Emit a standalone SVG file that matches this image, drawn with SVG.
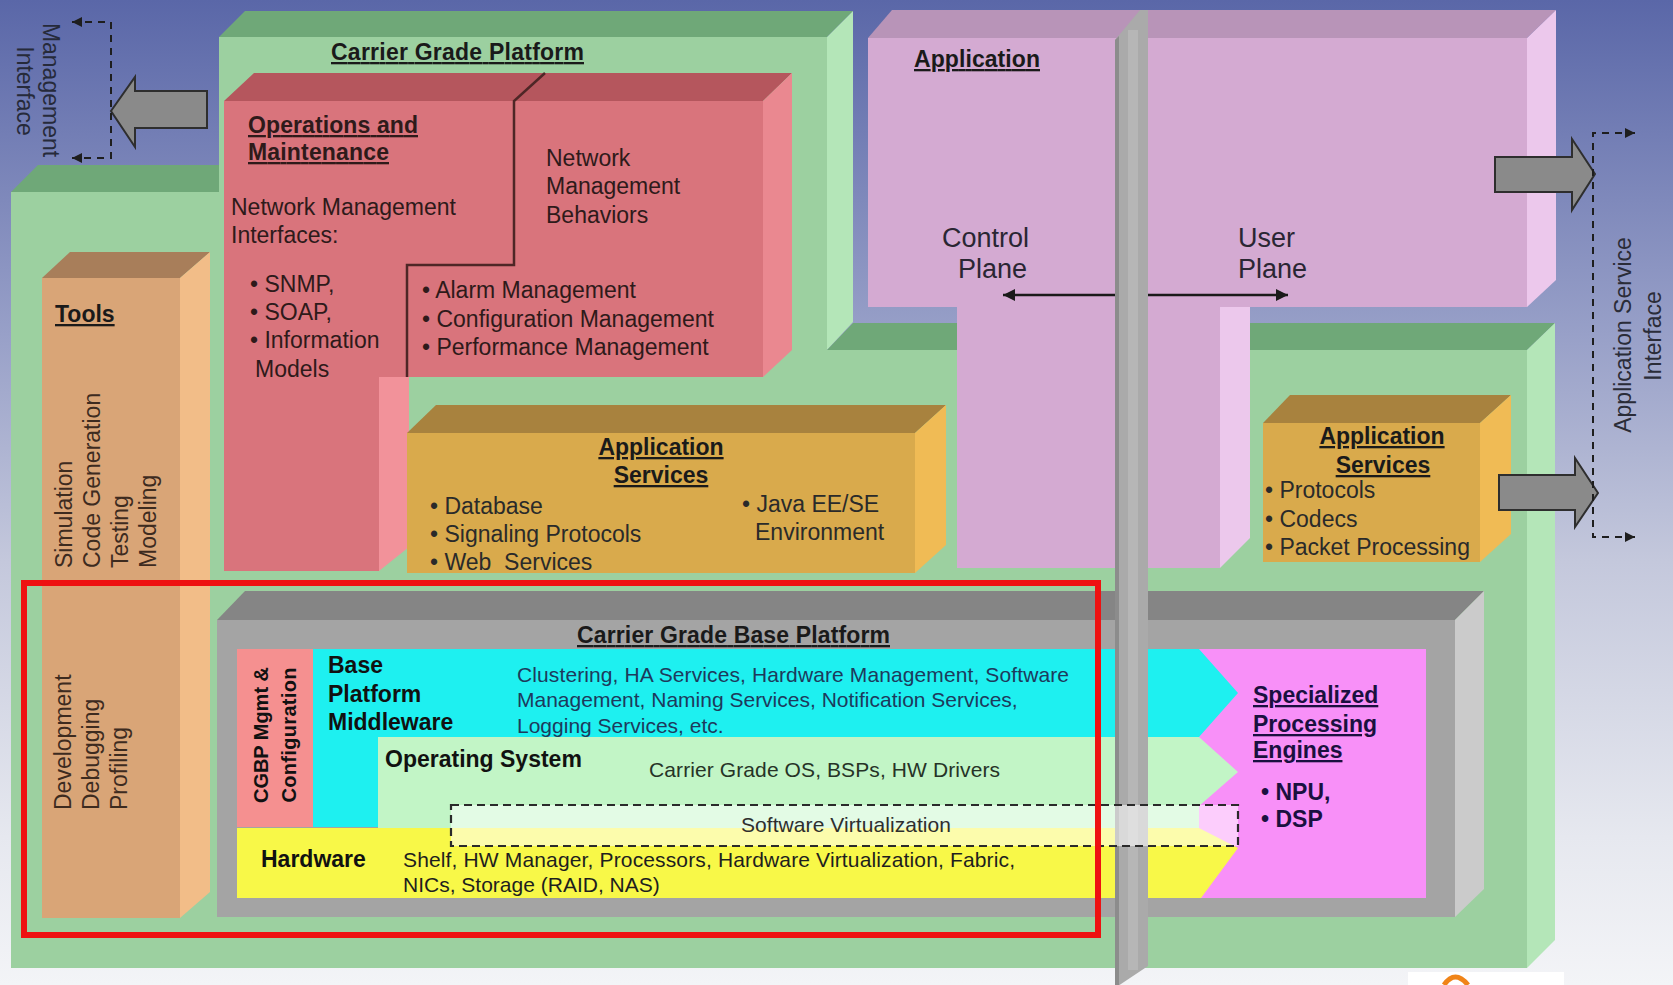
<svg xmlns="http://www.w3.org/2000/svg" width="1673" height="985" viewBox="0 0 1673 985">
<defs>
<linearGradient id="bg" x1="0" y1="0" x2="0" y2="1">
<stop offset="0" stop-color="#5a67a8"/>
<stop offset="0.34" stop-color="#98a0c8"/>
<stop offset="0.57" stop-color="#c4c8dc"/>
<stop offset="0.85" stop-color="#e6e8ef"/>
<stop offset="1" stop-color="#f3f4f7"/>
</linearGradient>
<marker id="dashTip" viewBox="0 0 10 10" refX="10" refY="5" markerWidth="11" markerHeight="10" markerUnits="userSpaceOnUse" orient="auto-start-reverse">
<path d="M0,0 L10,5 L0,10 z" fill="#1e1e1e"/>
</marker>
<marker id="planeTip" viewBox="0 0 10 10" refX="10" refY="5" markerWidth="14" markerHeight="12" markerUnits="userSpaceOnUse" orient="auto-start-reverse">
<path d="M0,0 L10,5 L0,10 z" fill="#1a1a1a"/>
</marker>
<style>
text{font-family:"Liberation Sans",Arial,sans-serif}
.h{font-size:23px;font-weight:bold;text-decoration:underline;fill:#1a1a1a}
.t{font-size:23px;fill:#2a2a2a}
.b{font-size:23px;font-weight:bold;fill:#111}
.s{font-size:21px;fill:#1e1e1e}
.om{fill:#2e1a1a}
.tool{font-size:23px;fill:#3d2b1f}
.gF{fill:#9cd0a0}.gT{fill:#6fa878}.gR{fill:#b4e6b8}
.pF{fill:#d4aad2}.pT{fill:#b894b8}.pR{fill:#ecc8ec}
.tF{fill:#d9a577}.tT{fill:#a87e5a}.tR{fill:#f2bd88}
.rF{fill:#d9747c}.rT{fill:#b5565d}.rR{fill:#ea8890}
.oF{fill:#d9aa4c}.oT{fill:#a8823e}.oR{fill:#f0bb55}
.bigArrow{fill:#8a8a8a;stroke:#2e2e2e;stroke-width:2}
.dash{fill:none;stroke:#1e1e1e;stroke-width:2;stroke-dasharray:7 6}
</style>
</defs>

<rect x="0" y="0" width="1673" height="985" fill="url(#bg)"/>

<g id="carrier-grade-platform">
<polygon class="gF" points="11,192 219,192 219,37 827,37 827,350 1527,350 1527,968 11,968"/>
<polygon class="gT" points="219,37 245,11 853,11 827,37"/>
<polygon class="gR" points="827,37 853,11 853,322 827,350"/>
<polygon class="gT" points="11,192 38,165 219,165 219,192"/>
<polygon class="gT" points="827,350 853,323 1555,323 1527,350"/>
<polygon class="gR" points="1527,350 1555,323 1555,940 1527,968"/>
<text class="h" x="331" y="60" textLength="253">Carrier Grade Platform</text>
</g>

<g id="application">
<polygon class="pT" points="868,38 892,10 1556,10 1527,38"/>
<rect class="pF" x="868" y="38" width="659" height="269"/>
<polygon class="pR" points="1527,38 1556,10 1556,280 1527,307"/>
<rect class="pF" x="957" y="307" width="263" height="261"/>
<polygon class="pR" points="1220,307 1250,307 1250,538 1220,568"/>
<text class="h" x="914" y="67" textLength="126">Application</text>
<text x="942" y="247" style="font-size:27px;fill:#2a2633">Control</text>
<text x="958" y="278" style="font-size:27px;fill:#2a2633">Plane</text>
<text x="1238" y="247" style="font-size:27px;fill:#2a2633">User</text>
<text x="1238" y="278" style="font-size:27px;fill:#2a2633">Plane</text>
</g>

<g id="tools">
<rect class="tF" x="42" y="278" width="138" height="640"/>
<polygon class="tT" points="42,278 70,252 210,252 180,278"/>
<polygon class="tR" points="180,278 210,252 210,892 180,918"/>
<text class="h" x="55" y="322">Tools</text>
<text class="tool" transform="translate(72,568) rotate(-90)">Simulation</text>
<text class="tool" transform="translate(100,568) rotate(-90)">Code Generation</text>
<text class="tool" transform="translate(128,568) rotate(-90)">Testing</text>
<text class="tool" transform="translate(156,568) rotate(-90)">Modeling</text>
<text class="tool" transform="translate(71,810) rotate(-90)">Development</text>
<text class="tool" transform="translate(99,810) rotate(-90)">Debugging</text>
<text class="tool" transform="translate(127,810) rotate(-90)">Profiling</text>
</g>

<g id="operations-maintenance">
<polygon class="rF" points="224,101 763,101 763,377 379,377 379,571 224,571"/>
<polygon class="rT" points="224,101 254,73 792,73 763,101"/>
<polygon class="rR" points="763,101 792,73 792,350 763,377"/>
<polygon fill="#f2929a" points="379,377 409,377 409,547 379,571"/>
<path d="M545,73 L514,101 V265 H407 V377" fill="none" stroke="#4e2626" stroke-width="2.5"/>
<text class="h om" x="248" y="133" textLength="170">Operations and</text>
<text class="h om" x="248" y="160" textLength="141">Maintenance</text>
<text class="t om" x="231" y="215">Network Management</text>
<text class="t om" x="231" y="243">Interfaces:</text>
<text class="t om" x="250" y="292">• SNMP,</text>
<text class="t om" x="250" y="320">• SOAP,</text>
<text class="t om" x="250" y="348">• Information</text>
<text class="t om" x="255" y="377">Models</text>
<text class="t om" x="546" y="166">Network</text>
<text class="t om" x="546" y="194">Management</text>
<text class="t om" x="546" y="223">Behaviors</text>
<text class="t om" x="422" y="298">• Alarm Management</text>
<text class="t om" x="422" y="327">• Configuration Management</text>
<text class="t om" x="422" y="355">• Performance Management</text>
</g>

<g id="application-services-middle">
<rect class="oF" x="407" y="433" width="508" height="140"/>
<polygon class="oT" points="407,433 436,405 946,405 915,433"/>
<polygon class="oR" points="915,433 946,405 946,545 915,573"/>
<text class="h" x="661" y="455" text-anchor="middle">Application</text>
<text class="h" x="661" y="483" text-anchor="middle">Services</text>
<text class="t" x="430" y="514">• Database</text>
<text class="t" x="430" y="542">• Signaling Protocols</text>
<text class="t" x="430" y="570" xml:space="preserve">• Web  Services</text>
<text class="t" x="742" y="512">• Java EE/SE</text>
<text class="t" x="755" y="540">Environment</text>
</g>

<g id="application-services-right">
<rect class="oF" x="1263" y="423" width="217" height="139"/>
<polygon class="oT" points="1263,423 1290,395 1511,395 1480,423"/>
<polygon class="oR" points="1480,423 1511,395 1511,534 1480,562"/>
<text class="h" x="1382" y="444" text-anchor="middle">Application</text>
<text class="h" x="1383" y="473" text-anchor="middle">Services</text>
<text class="t" x="1265" y="498">• Protocols</text>
<text class="t" x="1265" y="527">• Codecs</text>
<text class="t" x="1265" y="555">• Packet Processing</text>
</g>

<g id="carrier-grade-base-platform">
<rect x="217" y="620" width="1238" height="297" fill="#a4a4a4"/>
<polygon points="217,620 245,591 1484,591 1455,620" fill="#858585"/>
<polygon points="1455,620 1484,591 1484,889 1455,917" fill="#cbcbcb"/>
<rect x="1190" y="649" width="236" height="249" fill="#f890f8"/>
<rect x="237" y="649" width="76" height="178" fill="#f59090"/>
<polygon points="313,649 1199,649 1238,693 1199,737 378,737 378,827 313,827" fill="#1ef0f0"/>
<polygon points="378,737 1199,737 1238,772 1199,806 1199,828 378,828" fill="#c2f5c6"/>
<polygon points="237,828 1199,828 1238,848 1201,898 237,898" fill="#f8f848"/>
<text class="h" x="577" y="643" textLength="313">Carrier Grade Base Platform</text>
<text transform="translate(268,735) rotate(-90)" text-anchor="middle" textLength="136" style="font-size:20px;font-weight:bold;fill:#111">CGBP Mgmt &amp;</text>
<text transform="translate(296,735) rotate(-90)" text-anchor="middle" textLength="135" style="font-size:20px;font-weight:bold;fill:#111">Configuration</text>
<text class="b" x="328" y="673">Base</text>
<text class="b" x="328" y="702">Platform</text>
<text class="b" x="328" y="730">Middleware</text>
<text class="s" x="517" y="682" textLength="552" style="fill:#1d3a5c">Clustering, HA Services, Hardware Management, Software</text>
<text class="s" x="517" y="707" style="fill:#1d3a5c">Management, Naming Services, Notification Services,</text>
<text class="s" x="517" y="733" style="fill:#1d3a5c">Logging Services, etc.</text>
<text class="b" x="385" y="767">Operating System</text>
<text class="s" x="649" y="777" textLength="351" style="fill:#263326">Carrier Grade OS, BSPs, HW Drivers</text>
<text class="b" x="261" y="867">Hardware</text>
<text class="s" x="403" y="867" textLength="612">Shelf, HW Manager, Processors, Hardware Virtualization, Fabric,</text>
<text class="s" x="403" y="892">NICs, Storage (RAID, NAS)</text>
<text class="h" x="1253" y="703" style="fill:#1a1040">Specialized</text>
<text class="h" x="1253" y="732" style="fill:#1a1040">Processing</text>
<text class="h" x="1253" y="758" style="fill:#1a1040">Engines</text>
<text class="b" x="1261" y="800" style="fill:#1a1040">• NPU,</text>
<text class="b" x="1261" y="827" style="fill:#1a1040">• DSP</text>
</g>

<g id="management-interface">
<text class="t" transform="translate(43,90) rotate(90)" text-anchor="middle" style="fill:#262a3a">Management</text>
<text class="t" transform="translate(17,91) rotate(90)" text-anchor="middle" style="fill:#262a3a">Interface</text>
</g>

<g id="application-service-interface">
<text class="t" transform="translate(1631,335) rotate(-90)" text-anchor="middle" style="fill:#2a2c38">Application Service</text>
<text class="t" transform="translate(1661,336) rotate(-90)" text-anchor="middle" style="fill:#2a2c38">Interface</text>
</g>

<g id="connectors">
<polygon class="bigArrow" points="111,111 135,77 135,91 207,91 207,128 135,128 135,147"/>
<path class="dash" d="M72,22 H111 V158 H72" marker-start="url(#dashTip)" marker-end="url(#dashTip)"/>
<polygon class="bigArrow" points="1495,157 1572,157 1572,139 1595,174 1572,210 1572,192 1495,192"/>
<polygon class="bigArrow" points="1499,475 1575,475 1575,458 1598,493 1575,527 1575,510 1499,510"/>
<path class="dash" d="M1635,133 H1593 V537 H1635" marker-start="url(#dashTip)" marker-end="url(#dashTip)"/>
<path d="M1003,295 H1288" fill="none" stroke="#1a1a1a" stroke-width="2.5" marker-start="url(#planeTip)" marker-end="url(#planeTip)"/>
</g>

<g id="plane-separator">
<polygon points="1115,40 1140,10 1148,10 1148,966 1115,988" fill="#aaaaaa"/>
<polygon points="1115,40 1119,36 1119,985 1115,988" fill="#8c8c8c"/>
<rect x="1128" y="30" width="10" height="940" fill="#b6b6b6"/>
</g>

<g id="software-virtualization">
<rect x="451" y="805" width="787" height="41" fill="#ffffff" fill-opacity="0.55" stroke="#2a2a2a" stroke-width="2.2" stroke-dasharray="8 5"/>
<text class="s" x="741" y="832" textLength="210" style="fill:#2e2e2e">Software Virtualization</text>
</g>

<g id="highlight">
<rect x="24" y="583" width="1074" height="352" fill="none" stroke="#ee1111" stroke-width="6"/>
</g>

<g id="corner-logo">
<rect x="1408" y="972" width="156" height="13" fill="#ffffff"/>
<path d="M1444,985 Q1455,969 1468,985" fill="none" stroke="#f08418" stroke-width="5"/>
</g>
</svg>
